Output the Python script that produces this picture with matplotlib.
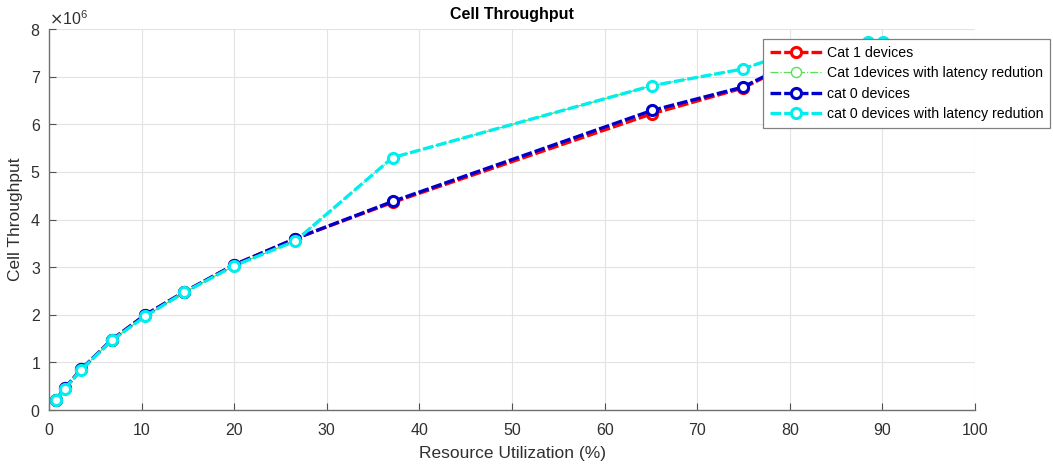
import matplotlib
matplotlib.use("Agg")
import matplotlib.pyplot as plt
from matplotlib.ticker import ScalarFormatter

plt.rcParams["font.family"] = ["Liberation Sans", "DejaVu Sans"]

# Resource utilization (%) and cell throughput (millions)
util_cat1 = [0.8, 1.7, 3.5, 6.8, 10.4, 14.6, 20.0, 26.6, 37.1, 65.1, 74.9, 80.0]
thr_cat1 = [0.22, 0.46, 0.86, 1.48, 2.00, 2.48, 3.05, 3.60, 4.36, 6.22, 6.76, 7.25]

util_cat1_lr = [0.8, 1.7, 3.5, 6.8, 10.4, 14.6, 20.0, 26.6, 37.1, 65.1, 74.9, 80.0, 88.4, 90.1]
thr_cat1_lr = [0.21, 0.45, 0.85, 1.47, 1.97, 2.47, 3.03, 3.55, 5.30, 6.81, 7.16, 7.50, 7.72, 7.72]

util_cat0 = [0.8, 1.7, 3.5, 6.8, 10.4, 14.6, 20.0, 26.6, 37.1, 65.1, 74.9, 80.0]
thr_cat0 = [0.22, 0.46, 0.86, 1.48, 2.00, 2.48, 3.05, 3.60, 4.38, 6.29, 6.78, 7.27]

util_cat0_lr = [0.8, 1.7, 3.5, 6.8, 10.4, 14.6, 20.0, 26.6, 37.1, 65.1, 74.9, 80.0, 88.4, 90.1]
thr_cat0_lr = [0.21, 0.45, 0.85, 1.47, 1.97, 2.47, 3.03, 3.55, 5.30, 6.81, 7.16, 7.50, 7.72, 7.72]

labels = ["Cat 1 devices", "Cat 1devices with latency redution",
          "cat 0 devices", "cat 0 devices with latency redution"]

x_ticks = list(range(0, 101, 10))
y_ticks = list(range(0, 9))

fig = plt.figure(figsize=(10.53, 4.65), dpi=100)
ax = fig.add_axes([0.0465, 0.118, 0.8795, 0.8196])

M = 1e6
thick = dict(lw=2.4, marker="o", ms=7.3, mew=2.2, mfc="white")
ax.plot(util_cat1, [v * M for v in thr_cat1], color="#ff0000",
        dashes=(3.2, 0.9), label=labels[0], **thick)
ax.plot(util_cat1_lr, [v * M for v in thr_cat1_lr], color="#55e055",
        lw=0.9, ls="-.", marker="o", ms=7.3, mew=1.0, mfc="white",
        label=labels[1])
ax.plot(util_cat0, [v * M for v in thr_cat0], color="#0000cc",
        dashes=(3.2, 0.9), label=labels[2], **thick)
ax.plot(util_cat0_lr, [v * M for v in thr_cat0_lr], color="#00eeee",
        dashes=(3.2, 0.9), label=labels[3], **thick)

ax.set_xlim(0, 100)
ax.set_ylim(0, 8 * M)
ax.set_xticks(x_ticks)
ax.set_yticks([t * M for t in y_ticks])

fmt = ScalarFormatter(useMathText=True)
fmt.set_powerlimits((0, 0))
ax.yaxis.set_major_formatter(fmt)
ax.yaxis.get_offset_text().set_fontsize(11.5)
ax.yaxis.get_offset_text().set_color("#404040")

ax.grid(True, color="#e3e3e3", lw=0.8)
ax.set_axisbelow(True)
for side in ("top", "right"):
    ax.spines[side].set_visible(False)
for side in ("left", "bottom"):
    ax.spines[side].set_color("#707070")
    ax.spines[side].set_linewidth(1.0)
ax.tick_params(direction="in", length=5, width=0.8, color="#505050",
               labelsize=11.5, labelcolor="#303030")
ax.tick_params(axis="x", pad=9)
ax.tick_params(axis="y", pad=6)

ax.set_title("Cell Throughput", fontsize=11.5, fontweight="bold", pad=7)
ax.set_xlabel("Resource Utilization (%)", fontsize=12.5, color="#303030", labelpad=6)
ax.set_ylabel("Cell Throughput", fontsize=12.5, color="#303030", labelpad=5)

leg = ax.legend(loc="upper left", bbox_to_anchor=(763 / 1053, 1 - 39 / 465),
                bbox_transform=fig.transFigure, borderaxespad=0, fontsize=10.2,
                frameon=True, fancybox=False, handlelength=3.7,
                handletextpad=0.3, labelspacing=0.45, borderpad=0.5)
leg.get_frame().set_edgecolor("#808080")
leg.get_frame().set_linewidth(0.9)
leg.get_frame().set_alpha(1.0)

fig.savefig("out.png", dpi=100)
